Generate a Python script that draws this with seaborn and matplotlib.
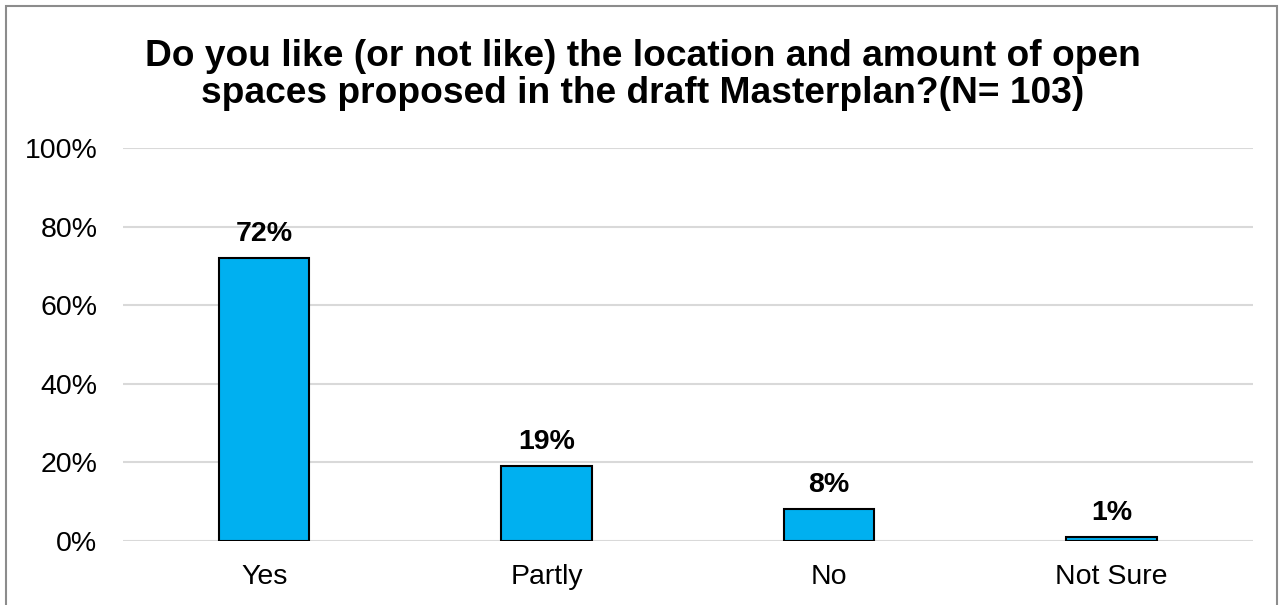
import matplotlib
matplotlib.use("Agg")
import matplotlib.pyplot as plt
from matplotlib.patches import Rectangle
from matplotlib.ticker import FuncFormatter
import seaborn as sns
import pandas as pd

categories = ["Yes", "Partly", "No", "Not Sure"]
shares = [72, 19, 8, 1]
y_ticks = [0, 20, 40, 60, 80, 100]
title = ("Do you like (or not like) the location and amount of open\n"
         "spaces proposed in the draft Masterplan?(N= 103)")

sns.set_theme(style="white")
plt.rcParams["font.family"] = ["Liberation Sans", "DejaVu Sans"]

df = pd.DataFrame({"answer": categories, "share": shares})

fig = plt.figure(figsize=(12.81, 6.05), dpi=100)
ax = fig.add_axes([0.096, 0.106, 0.882, 0.649])

sns.barplot(data=df, x="answer", y="share", order=categories, ax=ax,
            color="#00B0F0", saturation=1, width=0.32,
            edgecolor="black", linewidth=1.5, zorder=3)

ax.set_ylim(0, 100)
ax.set_yticks(y_ticks)
ax.yaxis.set_major_formatter(FuncFormatter(lambda v, _: f"{v:.0f}%"))
ax.grid(axis="y", color="#D9D9D9", linewidth=1.5, zorder=0)
ax.set_axisbelow(True)
for s in ax.spines.values():
    s.set_visible(False)
ax.tick_params(axis="both", length=0, labelsize=20.5, colors="black")
ax.tick_params(axis="y", pad=18.5)
ax.tick_params(axis="x", pad=17)
ax.set_xlabel("")
ax.set_ylabel("")

for i, v in enumerate(shares):
    ax.annotate(f"{v}%", (i, v), xytext=(0, 8), textcoords="offset points",
                ha="center", va="bottom", fontsize=20.5, fontweight="bold",
                color="black")

fig.text(0.502, 0.935, title, ha="center", va="top", fontsize=26.7,
         fontweight="bold", color="black", linespacing=1.07)

fig.patches.append(Rectangle((0.0043, -0.01), 0.9922, 1.0, transform=fig.transFigure,
                             fill=False, edgecolor="#8C8C8C", linewidth=1.5))

fig.savefig("out.png", dpi=100)
